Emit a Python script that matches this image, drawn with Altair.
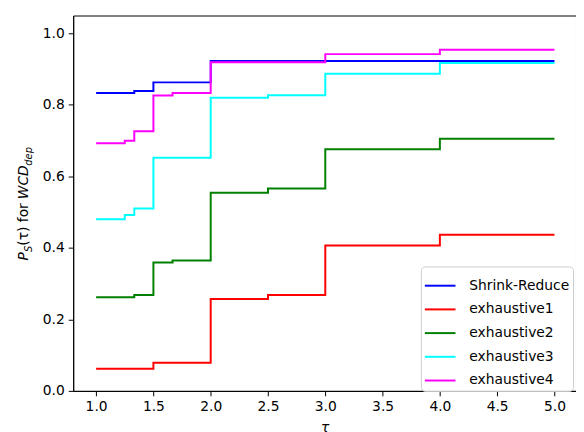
import altair as alt
import pandas as pd

series_names = ["Shrink-Reduce", "exhaustive1", "exhaustive2", "exhaustive3", "exhaustive4"]
series_colors = ["#0000ff", "#ff0000", "#008000", "#00ffff", "#ff00ff"]

tau_sr = [1.0, 1.333, 1.5, 2.0, 5.0]
val_sr = [0.833, 0.839, 0.863, 0.923, 0.923]

tau_e1 = [1.0, 1.5, 2.0, 2.5, 3.0, 4.0, 5.0]
val_e1 = [0.062, 0.079, 0.257, 0.268, 0.407, 0.437, 0.437]

tau_e2 = [1.0, 1.333, 1.5, 1.667, 2.0, 2.5, 3.0, 4.0, 5.0]
val_e2 = [0.262, 0.268, 0.359, 0.365, 0.554, 0.566, 0.676, 0.705, 0.705]

tau_e3 = [1.0, 1.25, 1.333, 1.5, 2.0, 2.5, 3.0, 4.0, 5.0]
val_e3 = [0.480, 0.492, 0.510, 0.652, 0.820, 0.827, 0.887, 0.917, 0.917]

tau_e4 = [1.0, 1.25, 1.333, 1.5, 1.667, 2.0, 3.0, 4.0, 5.0]
val_e4 = [0.693, 0.700, 0.726, 0.826, 0.833, 0.919, 0.942, 0.954, 0.954]

x_ticks = [1.0, 1.5, 2.0, 2.5, 3.0, 3.5, 4.0, 4.5, 5.0]
y_ticks = [0.0, 0.2, 0.4, 0.6, 0.8, 1.0]

rows = []
for i, (name, taus, vals) in enumerate(zip(series_names,
                                            [tau_sr, tau_e1, tau_e2, tau_e3, tau_e4],
                                            [val_sr, val_e1, val_e2, val_e3, val_e4])):
    for t, v in zip(taus, vals):
        rows.append({"series": name, "order": i, "tau": t, "p": v})
df = pd.DataFrame(rows)

FONT = "DejaVu Sans"

lines = alt.Chart(df).mark_line(interpolate="step-after", strokeWidth=2).encode(
    x=alt.X("tau:Q",
            scale=alt.Scale(domain=[0.8, 5.188], nice=False, zero=False),
            axis=alt.Axis(values=x_ticks, format=".1f", title="τ",
                          titleFontStyle="italic", titleFontWeight="normal",
                          titleFontSize=14, titlePadding=7, grid=False)),
    y=alt.Y("p:Q",
            scale=alt.Scale(domain=[0, 1.05], nice=False, zero=False),
            axis=alt.Axis(values=y_ticks, format=".1f", title=None, grid=False)),
    color=alt.Color("series:N",
                    scale=alt.Scale(domain=series_names, range=series_colors),
                    legend=alt.Legend(title=None, orient="none", legendX=352, legendY=254,
                                      symbolType="stroke", symbolSize=961,
                                      symbolStrokeWidth=2, labelFontSize=14,
                                      labelOffset=13, rowPadding=-2, padding=3,
                                      fillColor="rgba(255,255,255,0.8)",
                                      strokeColor="#cccccc", cornerRadius=4,
                                      labelColor="#000000")),
    detail="order:O",
)

one = alt.Data(values=[{"a": 1}])

def piece(txt, x, y, size, style):
    return alt.Chart(one).mark_text(
        text=txt, angle=270, align="left", baseline="alphabetic",
        fontSize=size, fontStyle=style, font=FONT, color="#000000"
    ).encode(x=alt.value(x), y=alt.value(y))

ylabel = (piece("P", -46, 248, 14, "italic")
          + piece("S", -42, 239.5, 10, "italic")
          + piece("(τ) for", -46, 233, 14, "normal")
          + piece("WCD", -46, 186, 14, "italic")
          + piece("dep", -42, 152, 10, "italic"))

chart = alt.layer(lines, ylabel).properties(
    width=509, height=380,
    autosize=alt.AutoSizeParams(type="none"),
    padding={"left": 66, "top": 5, "right": 0, "bottom": 39},
).configure(font=FONT).configure_view(
    stroke="#000000", strokeWidth=1
).configure_axis(
    domainColor="#000000", domainWidth=1, tickColor="#000000", tickSize=5,
    tickWidth=1, labelFontSize=14, labelColor="#000000", labelPadding=4,
    titleColor="#000000", labelFont=FONT, titleFont=FONT
)

chart.save("out.html", embed_options={"renderer": "svg", "actions": False})
